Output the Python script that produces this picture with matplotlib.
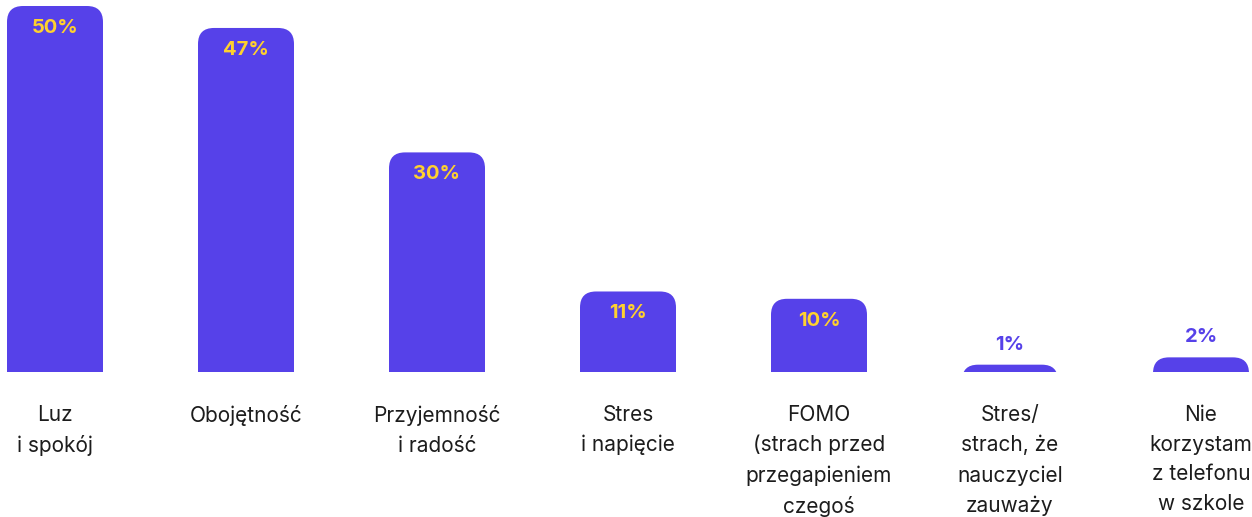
import matplotlib
matplotlib.use("Agg")
import matplotlib.pyplot as plt
from matplotlib.patches import FancyBboxPatch

categories = ["Luz\ni spokój", "Obojętność", "Przyjemność\ni radość", "Stres\ni napięcie",
              "FOMO\n(strach przed\nprzegapieniem\nczegoś", "Stres/\nstrach, że\nnauczyciel\nzauważy",
              "Nie\nkorzystam\nz telefonu\nw szkole"]
values = [50, 47, 30, 11, 10, 1, 2]
labels = ["50%", "47%", "30%", "11%", "10%", "1%", "2%"]

BAR = "#5641E9"
YEL = "#FFD12E"
TXT = "#1c1c1c"

plt.rcParams['font.family'] = ['Inter', 'DejaVu Sans']

W, H = 1252, 517
fig = plt.figure(figsize=(W / 100, H / 100), dpi=100)
base_px = 372
ppu = 7.32
ax = fig.add_axes([0, (H - base_px) / H, 1, base_px / H])
x0 = 55
sp = 191
ax.set_xlim(-x0 / sp, (W - x0) / sp)
ax.set_ylim(0, base_px / ppu)
ax.axis("off")

bw = 96 / sp
r_px = 16
rx = r_px / sp
ry = r_px / ppu
for i, v in enumerate(values):
    bottom = -10
    p = FancyBboxPatch((i - bw / 2, bottom), bw, v - bottom,
                       boxstyle=f"round,pad=0,rounding_size={rx}",
                       mutation_aspect=ry / rx, fc=BAR, ec="none")
    ax.add_patch(p)
    if v >= 5:
        ax.text(i, v - 22 / ppu, labels[i], ha="center", va="center", color=YEL,
                fontsize=14.5, fontweight="bold")
    else:
        ax.text(i, v + 20 / ppu, labels[i], ha="center", va="center", color=BAR,
                fontsize=14.5, fontweight="bold")
    ax.text(i, -33 / ppu, categories[i], ha="center", va="top", color=TXT,
            fontsize=15, linespacing=1.6, clip_on=False)

fig.savefig("out.png", dpi=100)
